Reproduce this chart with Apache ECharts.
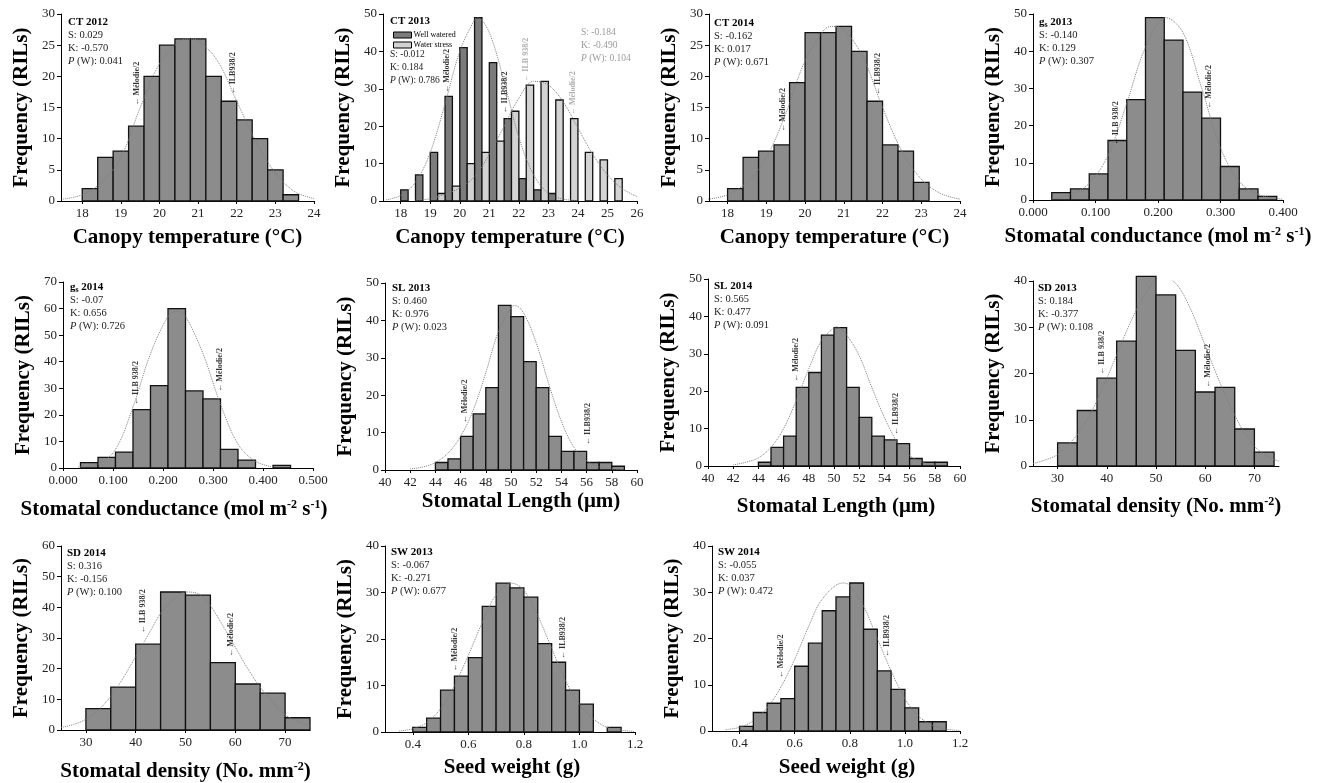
<!DOCTYPE html>
<html lang="en">
<head>
<meta charset="UTF-8">
<title>RIL frequency distributions</title>
<script src="https://cdn.jsdelivr.net/npm/echarts@6.0.0/dist/echarts.min.js"></script>
<style>
    html, body { margin: 0; padding: 0; background: #fff; }
    #main { width: 1320px; height: 783px; }
</style>
</head>
<body>
<div id="main"></div>
<script>
    // ---------- values ----------
    // CT 2012
    var ct12Start = [18.0, 18.4, 18.8, 19.2, 19.6, 20.0, 20.4, 20.8, 21.2, 21.6, 22.0, 22.4, 22.8, 23.2];
    var ct12Count = [2, 7, 8, 12, 20, 25, 26, 26, 20, 16, 13, 10, 5, 1];
    var ct12Width = 0.4;
    var ct12CurveX = [17.5, 18, 18.5, 19, 19.5, 20, 20.5, 20.75, 21, 21.5, 22, 22.5, 23, 23.5, 24];
    var ct12CurveY = [0.3, 1, 3, 7, 15, 22, 25.5, 26, 25.7, 22.5, 16, 9.5, 4.5, 1.5, 0.4];
    var ct12Marks = [[19.42, 15.3, 'Mélodie/2'], [21.9, 17.1, 'ILB938/2']];
    var ct12Stats = ['0.029', '-0.570', '0.041'];

    // CT 2013 (two treatments, 0.5 bins)
    var ct13Start = [18, 18.5, 19, 19.5, 20, 20.5, 21, 21.5, 22, 22.5, 23, 23.5, 24, 24.5, 25];
    var ct13Wet = [3, 7, 13, 28, 41, 49, 37, 22, 6, 3, 2, 0, 0, 0, 0];
    var ct13Stress = [0, 0, 2, 4, 10, 13, 16, 24, 31, 32, 27, 22, 13, 11, 6];
    var ct13WetCurveX = [17.5, 18, 18.5, 19, 19.5, 20, 20.5, 20.6, 21, 21.5, 22, 22.5, 23, 23.5, 24];
    var ct13WetCurveY = [0.3, 1.5, 5, 13, 26, 40, 48.5, 49, 45, 32, 17, 7, 2, 0.5, 0.1];
    var ct13StressCurveX = [18.5, 19, 19.5, 20, 20.5, 21, 21.5, 22, 22.5, 23, 23.5, 24, 24.5, 25, 25.5, 26];
    var ct13StressCurveY = [0.2, 0.6, 1.8, 3.5, 6.5, 12.5, 20, 27.5, 32, 31, 26.5, 19.5, 12.5, 7, 3.3, 1.2];
    var ct13WetMarks = [[19.56, 28.9, 'Mélodie/2'], [21.54, 23.4, 'ILB938/2']];
    var ct13StressMarks = [[22.23, 31.9, 'ILB 938/2'], [23.83, 23, 'Mélodie/2']];
    var ct13WetStats = ['-0.012', '0.184', '0.786'];
    var ct13StressStats = ['-0.184', '-0.490', '0.104'];

    // CT 2014
    var ct14Start = [18.0, 18.4, 18.8, 19.2, 19.6, 20.0, 20.4, 20.8, 21.2, 21.6, 22.0, 22.4, 22.8];
    var ct14Count = [2, 7, 8, 9, 19, 27, 27, 28, 24, 16, 9, 8, 3];
    var ct14Width = 0.4;
    var ct14CurveX = [17.5, 18, 18.5, 19, 19.5, 20, 20.5, 20.7, 21, 21.5, 22, 22.5, 23, 23.5, 24];
    var ct14CurveY = [0.3, 1, 3, 7, 14, 22.5, 27.5, 28, 27.5, 23, 15, 8, 3.5, 1.2, 0.3];
    var ct14Marks = [[19.42, 11.1, 'Mélodie/2'], [21.89, 17, 'ILB938/2']];
    var ct14Stats = ['-0.162', '0.017', '0.671'];

    // gs 2013
    var gs13Start = [0.03, 0.06, 0.09, 0.12, 0.15, 0.18, 0.21, 0.24, 0.27, 0.30, 0.33, 0.36];
    var gs13Count = [2, 3, 7, 16, 27, 49, 43, 29, 22, 9, 3, 1];
    var gs13Width = 0.03;
    var gs13CurveX = [0.03, 0.06, 0.09, 0.12, 0.15, 0.18, 0.213, 0.24, 0.27, 0.30, 0.33, 0.36, 0.39, 0.40];
    var gs13CurveY = [0.3, 1.5, 4.5, 12, 26, 41, 49, 45, 30, 14, 5, 1.5, 0.4, 0.2];
    var gs13Marks = [[0.133, 14.7, 'ILB 938/2'], [0.281, 24.5, 'Mélodie/2']];
    var gs13Stats = ['-0.140', '0.129', '0.307'];

    // gs 2014
    var gs14Start = [0.035, 0.07, 0.105, 0.14, 0.175, 0.21, 0.245, 0.28, 0.315, 0.35, 0.385, 0.42];
    var gs14Count = [2, 4, 6, 22, 31, 60, 29, 26, 7, 3, 0, 1];
    var gs14Width = 0.035;
    var gs14CurveX = [0.03, 0.07, 0.105, 0.14, 0.175, 0.21, 0.228, 0.245, 0.28, 0.315, 0.35, 0.385, 0.42];
    var gs14CurveY = [0.4, 1.5, 7, 23, 43, 57, 59, 57, 43, 24, 9, 2.5, 0.4];
    var gs14Marks = [[0.145, 23.7, 'ILB 938/2'], [0.313, 28.7, 'Mélodie/2']];
    var gs14Stats = ['-0.07', '0.656', '0.726'];

    // SL 2013
    var sl13Start = [44, 45, 46, 47, 48, 49, 50, 51, 52, 53, 54, 55, 56, 57, 58];
    var sl13Count = [2, 3, 9, 15, 22, 44, 41, 29, 22, 9, 5, 5, 2, 2, 1];
    var sl13Width = 1;
    var sl13CurveX = [42, 43, 44, 45, 46, 47, 48, 49, 50, 50.3, 51, 52, 53, 54, 55, 56, 57, 58, 59];
    var sl13CurveY = [0.3, 0.8, 2, 4.5, 9, 16, 26, 37, 43.5, 44, 42, 34, 23, 13, 6, 2.5, 0.8, 0.3, 0.1];
    var sl13Marks = [[46.36, 12.5, 'Mélodie/2'], [56.1, 6.7, 'ILB938/2']];
    var sl13Stats = ['0.460', '0.976', '0.023'];

    // SL 2014
    var sl14Start = [44, 45, 46, 47, 48, 49, 50, 51, 52, 53, 54, 55, 56, 57, 58];
    var sl14Count = [1, 5, 8, 21, 25, 35, 37, 21, 13, 8, 7, 6, 2, 1, 1];
    var sl14Width = 1;
    var sl14CurveX = [42, 43, 44, 45, 46, 47, 48, 49, 50, 50.2, 51, 52, 53, 54, 55, 56, 57, 58];
    var sl14CurveY = [0.3, 1, 2.2, 5, 10, 17.5, 26, 33.5, 37, 37.2, 35, 29.5, 21, 13, 6.5, 2.8, 1, 0.3];
    var sl14Marks = [[47.0, 22.5, 'Mélodie/2'], [54.9, 8.3, 'ILB938/2']];
    var sl14Stats = ['0.565', '0.477', '0.091'];

    // SD 2013
    var sd13Start = [30, 34, 38, 42, 46, 50, 54, 58, 62, 66, 70];
    var sd13Count = [5, 12, 19, 27, 41, 37, 25, 16, 17, 8, 3];
    var sd13Width = 4;
    var sd13CurveX = [25, 28, 30, 33, 36, 39, 42, 45, 48, 51, 54, 57, 60, 63, 66, 69, 72, 75];
    var sd13CurveY = [0.5, 1.5, 2.5, 5.5, 10, 16.5, 24, 31.5, 37.5, 41, 39.5, 34, 26, 18, 11, 5.5, 2.5, 1];
    var sd13Marks = [[39.1, 19.7, 'ILB 938/2'], [60.6, 16.9, 'Mélodie/2']];
    var sd13Stats = ['0.184', '-0.377', '0.108'];

    // SD 2014
    var sd14Start = [30, 35, 40, 45, 50, 55, 60, 65, 70];
    var sd14Count = [7, 14, 28, 45, 44, 22, 15, 12, 4];
    var sd14Width = 5;
    var sd14CurveX = [25, 27.5, 30, 32.5, 35, 37.5, 40, 42.5, 45, 47.5, 50, 52.5, 55, 57.5, 60, 62.5, 65, 67.5, 70, 72.5, 75];
    var sd14CurveY = [0.8, 1.8, 3.5, 6.5, 11, 17, 24, 31, 38, 42.5, 45, 44.5, 40.5, 34, 27, 20, 14, 9, 5, 2.8, 1.3];
    var sd14Marks = [[41.5, 31.5, 'ILB 938/2'], [59.2, 23.9, 'Mélodie/2']];
    var sd14Stats = ['0.316', '-0.156', '0.100'];

    // SW 2013
    var sw13Start = [0.40, 0.45, 0.50, 0.55, 0.60, 0.65, 0.70, 0.75, 0.80, 0.85, 0.90, 0.95, 1.00, 1.05, 1.10];
    var sw13Count = [1, 3, 9, 12, 16, 27, 32, 31, 29, 19, 15, 9, 6, 0, 1];
    var sw13Width = 0.05;
    var sw13CurveX = [0.35, 0.4, 0.45, 0.5, 0.55, 0.6, 0.65, 0.7, 0.755, 0.8, 0.85, 0.9, 0.95, 1.0, 1.05, 1.1, 1.15, 1.2];
    var sw13CurveY = [0.2, 0.7, 2, 5, 10, 16.5, 23.5, 29.5, 32, 30.5, 25, 18, 11, 6, 2.8, 1, 0.4, 0.1];
    var sw13Marks = [[0.553, 13, 'Mélodie/2'], [0.94, 15.7, 'ILB938/2']];
    var sw13Stats = ['-0.067', '-0.271', '0.677'];

    // SW 2014
    var sw14Start = [0.40, 0.45, 0.50, 0.55, 0.60, 0.65, 0.70, 0.75, 0.80, 0.85, 0.90, 0.95, 1.00, 1.05, 1.10];
    var sw14Count = [1, 4, 6, 7, 14, 19, 26, 29, 32, 22, 13, 9, 5, 2, 2];
    var sw14Width = 0.05;
    var sw14CurveX = [0.35, 0.4, 0.45, 0.5, 0.55, 0.6, 0.65, 0.7, 0.775, 0.8, 0.85, 0.9, 0.95, 1.0, 1.05, 1.1, 1.15, 1.2];
    var sw14CurveY = [0.3, 0.8, 2.2, 5, 9.5, 15.5, 22.5, 28.5, 32, 31.5, 27, 20, 13, 7, 3.2, 1.2, 0.4, 0.1];
    var sw14Marks = [[0.549, 11.4, 'Mélodie/2'], [0.935, 16, 'ILB938/2']];
    var sw14Stats = ['-0.055', '0.037', '0.472'];

    // ---------- helpers ----------
    var FONT = 'Liberation Serif';
    var BAR = '#8c8c8c';
    var BAR_DARK = '#7b7b7b';
    var BAR_LIGHT = '#d3d3d3';

    function zip(xs, ys) {
        return xs.map(function (x, i) { return [x, ys[i]]; });
    }

    function bins(start, count, width, offset) {
        offset = offset || 0;
        return start.map(function (s, i) { return [s + offset, s + offset + width, count[i]]; });
    }

    function barRenderer(fill) {
        return function (params, api) {
            var n = api.value(2);
            if (!n) return null;
            var p0 = api.coord([api.value(0), n]);
            var p1 = api.coord([api.value(1), 0]);
            return {
                type: 'rect',
                shape: {x: p0[0], y: p0[1], width: p1[0] - p0[0], height: p1[1] - p0[1]},
                style: {fill: fill, stroke: '#111', lineWidth: 1.3}
            };
        };
    }

    var tempName = 'Canopy temperature (°C)';
    var gsName = 'Stomatal conductance (mol m{sup|-2} s{sup|-1})';
    var slName = 'Stomatal Length (μm)';
    var sdName = 'Stomatal density (No. mm{sup|-2})';
    var swName = 'Seed weight (g)';

    var panels = [
        {bars: [{data: bins(ct12Start, ct12Count, ct12Width), fill: BAR}], curves: [zip(ct12CurveX, ct12CurveY)],
            marks: [{list: ct12Marks, color: '#000'}], title: '{t|CT 2012}', stats: ct12Stats,
            grid: {left: 61, top: 14, width: 253, height: 187}, xMin: 17.45, xMax: 24, xTicks: [18, 19, 20, 21, 22, 23, 24], dec: 0,
            yMax: 30, yStep: 5, xName: tempName, nameGap: 26, shift: 0, statPos: [68, 16]},
        {bars: [{data: bins(ct13Start, ct13Wet, 0.25, 0), fill: BAR_DARK, name: 'Well watered'},
                {data: bins(ct13Start, ct13Stress, 0.25, 0.25), fill: BAR_LIGHT, name: 'Water stress'}],
            curves: [zip(ct13WetCurveX, ct13WetCurveY), zip(ct13StressCurveX, ct13StressCurveY)],
            marks: [{list: ct13WetMarks, color: '#000'}, {list: ct13StressMarks, color: '#9a9a9a'}],
            title: null, stats: null,
            grid: {left: 383, top: 14, width: 254, height: 187}, xMin: 17.4, xMax: 26, xTicks: [18, 19, 20, 21, 22, 23, 24, 25, 26], dec: 0,
            yMax: 50, yStep: 10, xName: tempName, nameGap: 26, shift: 0},
        {bars: [{data: bins(ct14Start, ct14Count, ct14Width), fill: BAR}], curves: [zip(ct14CurveX, ct14CurveY)],
            marks: [{list: ct14Marks, color: '#000'}], title: '{t|CT 2014}', stats: ct14Stats,
            grid: {left: 709, top: 14, width: 251, height: 187}, xMin: 17.52, xMax: 24, xTicks: [18, 19, 20, 21, 22, 23, 24], dec: 0,
            yMax: 30, yStep: 5, xName: tempName, nameGap: 26, shift: 0, statPos: [714, 17]},
        {bars: [{data: bins(gs13Start, gs13Count, gs13Width), fill: BAR}], curves: [zip(gs13CurveX, gs13CurveY)],
            marks: [{list: gs13Marks, color: '#000'}], title: '{t|g}{ts|s}{t| 2013}', stats: gs13Stats,
            grid: {left: 1033, top: 14, width: 250, height: 186}, xMin: 0, xMax: 0.4, xTicks: [0, 0.1, 0.2, 0.3, 0.4], dec: 3,
            yMax: 50, yStep: 10, xName: gsName, nameGap: 26, shift: 0, statPos: [1039, 16]},
        {bars: [{data: bins(gs14Start, gs14Count, gs14Width), fill: BAR}], curves: [zip(gs14CurveX, gs14CurveY)],
            marks: [{list: gs14Marks, color: '#000'}], title: '{t|g}{ts|s}{t| 2014}', stats: gs14Stats,
            grid: {left: 63, top: 282, width: 250, height: 186}, xMin: 0, xMax: 0.5, xTicks: [0, 0.1, 0.2, 0.3, 0.4, 0.5], dec: 3,
            yMax: 70, yStep: 10, xName: gsName, nameGap: 31, shift: -14, statPos: [70, 281]},
        {bars: [{data: bins(sl13Start, sl13Count, sl13Width), fill: BAR}], curves: [zip(sl13CurveX, sl13CurveY)],
            marks: [{list: sl13Marks, color: '#000'}], title: '{t|SL 2013}', stats: sl13Stats,
            grid: {left: 385, top: 283, width: 252, height: 187}, xMin: 40, xMax: 60, xTicks: [40, 42, 44, 46, 48, 50, 52, 54, 56, 58, 60], dec: 0,
            yMax: 50, yStep: 10, xName: slName, nameGap: 21, shift: 10, statPos: [392, 282]},
        {bars: [{data: bins(sl14Start, sl14Count, sl14Width), fill: BAR}], curves: [zip(sl14CurveX, sl14CurveY)],
            marks: [{list: sl14Marks, color: '#000'}], title: '{t|SL 2014}', stats: sl14Stats,
            grid: {left: 708, top: 279, width: 252, height: 187}, xMin: 40, xMax: 60, xTicks: [40, 42, 44, 46, 48, 50, 52, 54, 56, 58, 60], dec: 0,
            yMax: 50, yStep: 10, xName: slName, nameGap: 30, shift: 2, statPos: [714, 280]},
        {bars: [{data: bins(sd13Start, sd13Count, sd13Width), fill: BAR}], curves: [zip(sd13CurveX, sd13CurveY)],
            marks: [{list: sd13Marks, color: '#000'}], title: '{t|SD 2013}', stats: sd13Stats,
            grid: {left: 1033, top: 281, width: 246, height: 185}, xMin: 25, xMax: 75, xTicks: [30, 40, 50, 60, 70], dec: 0,
            yMax: 40, yStep: 10, xName: sdName, nameGap: 30, shift: 0, statPos: [1038, 282]},
        {bars: [{data: bins(sd14Start, sd14Count, sd14Width), fill: BAR}], curves: [zip(sd14CurveX, sd14CurveY)],
            marks: [{list: sd14Marks, color: '#000'}], title: '{t|SD 2014}', stats: sd14Stats,
            grid: {left: 61, top: 546, width: 249, height: 184}, xMin: 25, xMax: 75, xTicks: [30, 40, 50, 60, 70], dec: 0,
            yMax: 60, yStep: 10, xName: sdName, nameGap: 31, shift: 0, statPos: [67, 547]},
        {bars: [{data: bins(sw13Start, sw13Count, sw13Width), fill: BAR}], curves: [zip(sw13CurveX, sw13CurveY)],
            marks: [{list: sw13Marks, color: '#000'}], title: '{t|SW 2013}', stats: sw13Stats,
            grid: {left: 385, top: 546, width: 250, height: 186}, xMin: 0.3, xMax: 1.2, xTicks: [0.4, 0.6, 0.8, 1.0, 1.2], dec: 1,
            yMax: 40, yStep: 10, xName: swName, nameGap: 25, shift: 2, statPos: [391, 546]},
        {bars: [{data: bins(sw14Start, sw14Count, sw14Width), fill: BAR}], curves: [zip(sw14CurveX, sw14CurveY)],
            marks: [{list: sw14Marks, color: '#000'}], title: '{t|SW 2014}', stats: sw14Stats,
            grid: {left: 712, top: 546, width: 248, height: 185}, xMin: 0.3, xMax: 1.2, xTicks: [0.4, 0.6, 0.8, 1.0, 1.2], dec: 1,
            yMax: 40, yStep: 10, xName: swName, nameGap: 26, shift: 11, statPos: [718, 546]}
    ];

    function statRich(color, size) {
        size = size || 10.5;
        return {
            t: {fontFamily: FONT, fontSize: 11, fontWeight: 'bold', fill: '#000', lineHeight: 13},
            ts: {fontFamily: FONT, fontSize: 8, fontWeight: 'bold', fill: '#000', lineHeight: 13, verticalAlign: 'bottom'},
            n: {fontFamily: FONT, fontSize: size, fill: color, lineHeight: 13},
            i: {fontFamily: FONT, fontSize: size, fontStyle: 'italic', fill: color, lineHeight: 13}
        };
    }

    function statLines(stats) {
        return '{n|S: ' + stats[0] + '}\n{n|K: ' + stats[1] + '}\n{i|P}{n| (W): ' + stats[2] + '}';
    }

    var option = {
        animation: false,
        backgroundColor: '#fff',
        grid: [], xAxis: [], yAxis: [], series: [], graphic: [],
        legend: {
            left: 388, top: 26, orient: 'vertical', icon: 'rect', itemWidth: 18, itemHeight: 6, itemGap: 2,
            selectedMode: false, data: ['Well watered', 'Water stress'],
            itemStyle: {borderColor: '#000', borderWidth: 1},
            textStyle: {fontFamily: FONT, fontSize: 8, color: '#000', padding: [0, 0, 0, -3]}
        }
    };

    panels.forEach(function (p, i) {
        option.grid.push(p.grid);
        option.xAxis.push({
            type: 'value', gridIndex: i, min: p.xMin, max: p.xMax,
            name: p.xName, nameLocation: 'middle', nameGap: p.nameGap,
            nameTextStyle: {
                fontFamily: FONT, fontSize: 21, fontWeight: 'bold', color: '#000',
                padding: p.shift >= 0 ? [0, 0, 0, 2 * p.shift] : [0, -2 * p.shift, 0, 0],
                rich: {sup: {fontFamily: FONT, fontSize: 12, fontWeight: 'bold', color: '#000', verticalAlign: 'top'}}
            },
            splitLine: {show: false},
            axisLine: {onZero: false, lineStyle: {color: '#000', width: 1}},
            axisTick: {show: true, customValues: p.xTicks, length: 3, lineStyle: {color: '#000'}},
            axisLabel: {
                customValues: p.xTicks, margin: 6, fontFamily: FONT, fontSize: 13, color: '#222',
                formatter: function (v) { return Number(v).toFixed(p.dec); }
            }
        });
        option.yAxis.push({
            type: 'value', gridIndex: i, min: 0, max: p.yMax, interval: p.yStep,
            name: 'Frequency (RILs)', nameLocation: 'middle', nameGap: 29,
            nameTextStyle: {fontFamily: FONT, fontSize: 21, fontWeight: 'bold', color: '#000'},
            splitLine: {show: false},
            axisLine: {show: true, lineStyle: {color: '#000', width: 1}},
            axisTick: {show: true, length: 4, lineStyle: {color: '#000'}},
            axisLabel: {margin: 6, fontFamily: FONT, fontSize: 13, color: '#222'}
        });

        p.bars.forEach(function (b) {
            option.series.push({
                type: 'custom', name: b.name, xAxisIndex: i, yAxisIndex: i, silent: true,
                itemStyle: {color: b.fill},
                encode: {x: [0, 1], y: 2},
                data: b.data,
                renderItem: barRenderer(b.fill)
            });
        });

        p.curves.forEach(function (c) {
            option.series.push({
                type: 'line', xAxisIndex: i, yAxisIndex: i, silent: true, z: 4,
                smooth: 0.35, symbol: 'none', data: c,
                lineStyle: {type: 'dotted', color: '#7f7f7f', width: 1}
            });
        });

        p.marks.forEach(function (m) {
            option.series.push({
                type: 'scatter', xAxisIndex: i, yAxisIndex: i, silent: true, z: 5,
                symbolSize: 0.1, itemStyle: {color: 'rgba(0,0,0,0)'},
                data: m.list.map(function (d) { return {value: [d[0], d[1]], name: '← ' + d[2]}; }),
                label: {
                    show: true, formatter: '{b}', position: [0, 0], rotate: 90,
                    align: 'left', verticalAlign: 'middle',
                    fontFamily: FONT, fontSize: 8, fontWeight: 'bold', color: m.color
                }
            });
        });

        if (p.title) {
            option.graphic.push({
                type: 'text', x: p.statPos[0], y: p.statPos[1], silent: true,
                style: {text: p.title + '\n' + statLines(p.stats), rich: statRich('#222'), fontFamily: FONT, fontSize: 10.5, fill: '#222'}
            });
        }
    });

    // CT 2013 carries a legend and two stat blocks
    option.graphic.push({
        type: 'text', x: 390, y: 15, silent: true,
        style: {text: '{t|CT 2013}', rich: statRich('#222'), fontFamily: FONT, fontSize: 11, fill: '#000'}
    });
    option.graphic.push({
        type: 'text', x: 390, y: 48, silent: true,
        style: {text: statLines(ct13WetStats), rich: statRich('#222', 9.5), fontFamily: FONT, fontSize: 9.5, fill: '#222'}
    });
    option.graphic.push({
        type: 'text', x: 581, y: 25.5, silent: true,
        style: {text: statLines(ct13StressStats), rich: statRich('#9a9a9a', 9.5), fontFamily: FONT, fontSize: 9.5, fill: '#9a9a9a'}
    });

    var myChart = echarts.init(document.getElementById('main'), null, {renderer: 'canvas'});
    myChart.setOption(option);
</script>
</body>
</html>
